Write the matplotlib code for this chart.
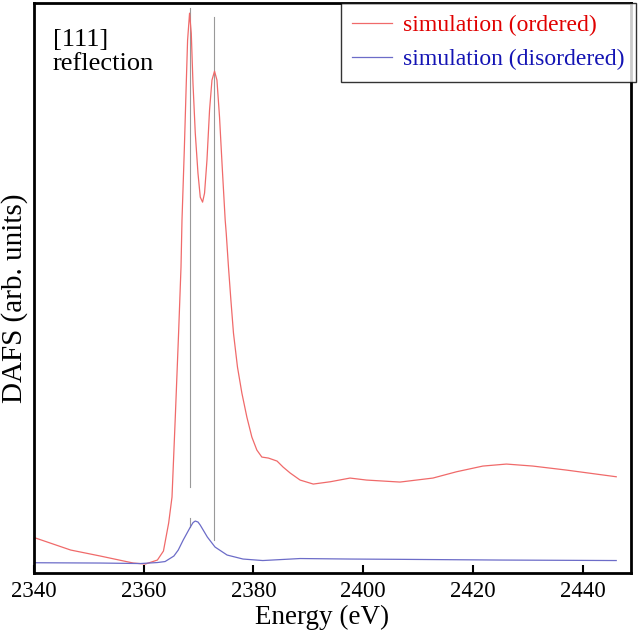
import numpy as np
import matplotlib
matplotlib.use("Agg")
import matplotlib.pyplot as plt

plt.rcParams['font.family'] = ['Liberation Serif', 'DejaVu Serif']

# simulated DAFS, ordered phase
energy_ord = [2340.3, 2346.7, 2352.1, 2358.1, 2360.3, 2362.5, 2363.6, 2364.55, 2365.16,
              2365.76, 2366.36, 2366.8, 2366.98, 2367.4, 2367.76, 2368.0, 2368.36, 2368.67,
              2368.98, 2369.4, 2369.89, 2370.31, 2370.73, 2371.09, 2371.53, 2372.0, 2372.44,
              2372.91, 2373.35, 2373.82, 2374.31, 2374.85, 2375.04, 2375.45, 2375.89, 2376.36,
              2377.09, 2377.89, 2378.8, 2379.71, 2380.62, 2381.53, 2382.73, 2384.3, 2385.4,
              2386.7, 2388.5, 2390.9, 2394.0, 2397.6, 2400.6, 2406.7, 2412.7, 2417.0,
              2421.8, 2426.1, 2430.9, 2437.0, 2446.1]
dafs_ord = [0.35, 0.23, 0.17, 0.10, 0.09, 0.13, 0.22, 0.50, 0.76,
            1.56, 2.40, 3.06, 3.53, 4.23, 4.90, 5.33, 5.60, 5.40,
            4.90, 4.40, 4.00, 3.76, 3.71, 3.80, 4.13, 4.63, 4.93,
            5.02, 4.93, 4.56, 4.06, 3.53, 3.40, 3.06, 2.73, 2.40,
            2.06, 1.80, 1.56, 1.36, 1.23, 1.16, 1.15, 1.12, 1.06,
            1.00, 0.93, 0.89, 0.913, 0.95, 0.93, 0.91, 0.95, 1.013,
            1.07, 1.09, 1.07, 1.03, 0.963]

# simulated DAFS, disordered phase
energy_dis = [2340.1, 2352.1, 2359.4, 2362.5, 2363.9, 2365.5, 2366.3, 2367.2, 2368.5,
              2369.0, 2369.4, 2369.9, 2370.3, 2371.6, 2373.0, 2375.2, 2378.1, 2381.7,
              2388.5, 2397.6, 2406.7, 2424.8, 2446.1]
dafs_dis = [0.103, 0.10, 0.095, 0.105, 0.115, 0.17, 0.23, 0.33, 0.46,
            0.505, 0.52, 0.51, 0.48, 0.36, 0.26, 0.18, 0.14, 0.125,
            0.145, 0.14, 0.137, 0.13, 0.125]

# peak markers: (energy, y from, y to)
markers = [(2368.4, 0.86, 5.65), (2368.4, 0.46, 0.55), (2372.9, 0.33, 5.56)]

fig = plt.figure(figsize=(6.4, 6.36), dpi=100)
ax = fig.add_axes([0.053, 0.099, 0.933, 0.896])

for e, y0, y1 in markers:
    ax.plot([e, e], [y0, y1], color='#999999', lw=0.8)

ax.plot(energy_ord, dafs_ord, color='#f06a6a', lw=0.9, label='simulation (ordered)')
ax.plot(energy_dis, dafs_dis, color='#6c6cc8', lw=0.9, label='simulation (disordered)')

ax.set_xlim(2340, 2448.8)
ax.set_ylim(0, 5.7)
ax.set_xticks([2340, 2360, 2380, 2400, 2420, 2440])
ax.set_yticks([])
ax.tick_params(axis='x', direction='in', length=6, width=1.5, labelsize=16.5, pad=6)
for s in ax.spines.values():
    s.set_linewidth(2)

ax.set_xlabel('Energy (eV)', fontsize=19.5, labelpad=2, x=0.483)
ax.set_ylabel('DAFS (arb. units)', fontsize=21, labelpad=4, y=0.482)

ax.text(0.032, 0.955, '[111]\nreflection', transform=ax.transAxes, fontsize=19,
        va='top', ha='left', linespacing=1.1)

leg = ax.legend(loc='upper right', bbox_to_anchor=(1.009, 1.0), fontsize=17,
                frameon=True, fancybox=False, borderaxespad=0, handlelength=1.7,
                handletextpad=0.45, labelspacing=0.5, borderpad=0.5)
leg.get_frame().set_edgecolor('black')
leg.get_frame().set_linewidth(1.0)
leg.get_texts()[0].set_color('#e00000')
leg.get_texts()[1].set_color('#1414b4')

fig.savefig('out.png', dpi=100)
